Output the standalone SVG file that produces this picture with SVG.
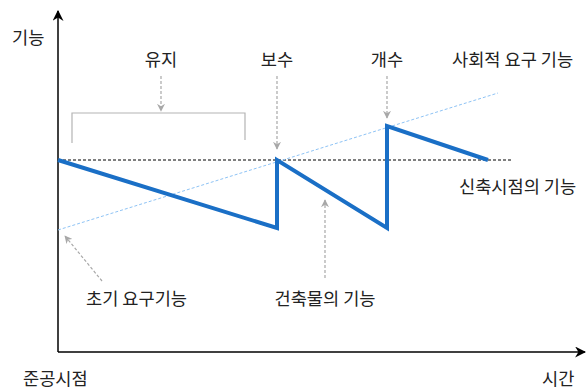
<svg xmlns="http://www.w3.org/2000/svg" width="588" height="389" viewBox="0 0 588 389">
<defs>
<style>
text{font-family:"Noto Sans CJK KR","Noto Sans",sans-serif;font-size:17.6px;fill:#222}
.g{stroke:#a8a8a8;stroke-width:1.2;fill:none;stroke-dasharray:3,2}
</style>
<marker id="ga" viewBox="0 0 10 10" refX="9" refY="5" markerWidth="8" markerHeight="8" orient="auto" markerUnits="userSpaceOnUse">
<path d="M0,0 L10,5 L0,10 L3,5 z" fill="#a8a8a8"/>
</marker>
<marker id="ba" viewBox="0 0 10 10" refX="9" refY="5" markerWidth="11" markerHeight="11" orient="auto" markerUnits="userSpaceOnUse">
<path d="M0,0 L10,5 L0,10 L3,5 z" fill="#000"/>
</marker>
</defs>
<rect width="588" height="389" fill="#fff"/>
<g id="axes">
<line x1="58" y1="352" x2="58" y2="11" stroke="#000" stroke-width="1.5" marker-end="url(#ba)"/>
<line x1="58" y1="352" x2="585" y2="352" stroke="#000" stroke-width="1.5" marker-end="url(#ba)"/>
</g>
<g id="connectors">
<line x1="58" y1="160" x2="511" y2="160" stroke="#000" stroke-width="1" stroke-dasharray="3,2"/>
<line x1="58" y1="230" x2="498" y2="93" stroke="#8ec3f5" stroke-width="1" stroke-dasharray="3,2"/>
<polyline points="58,160 277,228 277,160 387,228 387,126 488,160" fill="none" stroke="#1a6fc6" stroke-width="4" stroke-linejoin="miter"/>
<path d="M72,143 V113 H245 V140" fill="none" stroke="#b4b4b4" stroke-width="1.2"/>
<line class="g" x1="161" y1="76" x2="161" y2="111" marker-end="url(#ga)"/>
<line class="g" x1="277" y1="76" x2="277" y2="149" marker-end="url(#ga)"/>
<line class="g" x1="387" y1="76" x2="387" y2="118" marker-end="url(#ga)"/>
<line class="g" x1="325" y1="278" x2="325" y2="200" marker-end="url(#ga)"/>
<line class="g" x1="102" y1="281" x2="65" y2="236" marker-end="url(#ga)"/>
</g>
<g id="labels">
<text x="12" y="44">기능</text>
<text x="161" y="66" text-anchor="middle">유지</text>
<text x="277" y="66" text-anchor="middle">보수</text>
<text x="387" y="66" text-anchor="middle">개수</text>
<text x="452" y="66">사회적 요구 기능</text>
<text x="459" y="193">신축시점의 기능</text>
<text x="86" y="305">초기 요구기능</text>
<text x="325" y="305" text-anchor="middle">건축물의 기능</text>
<text x="23" y="385">준공시점</text>
<text x="542" y="385">시간</text>
</g>
</svg>
